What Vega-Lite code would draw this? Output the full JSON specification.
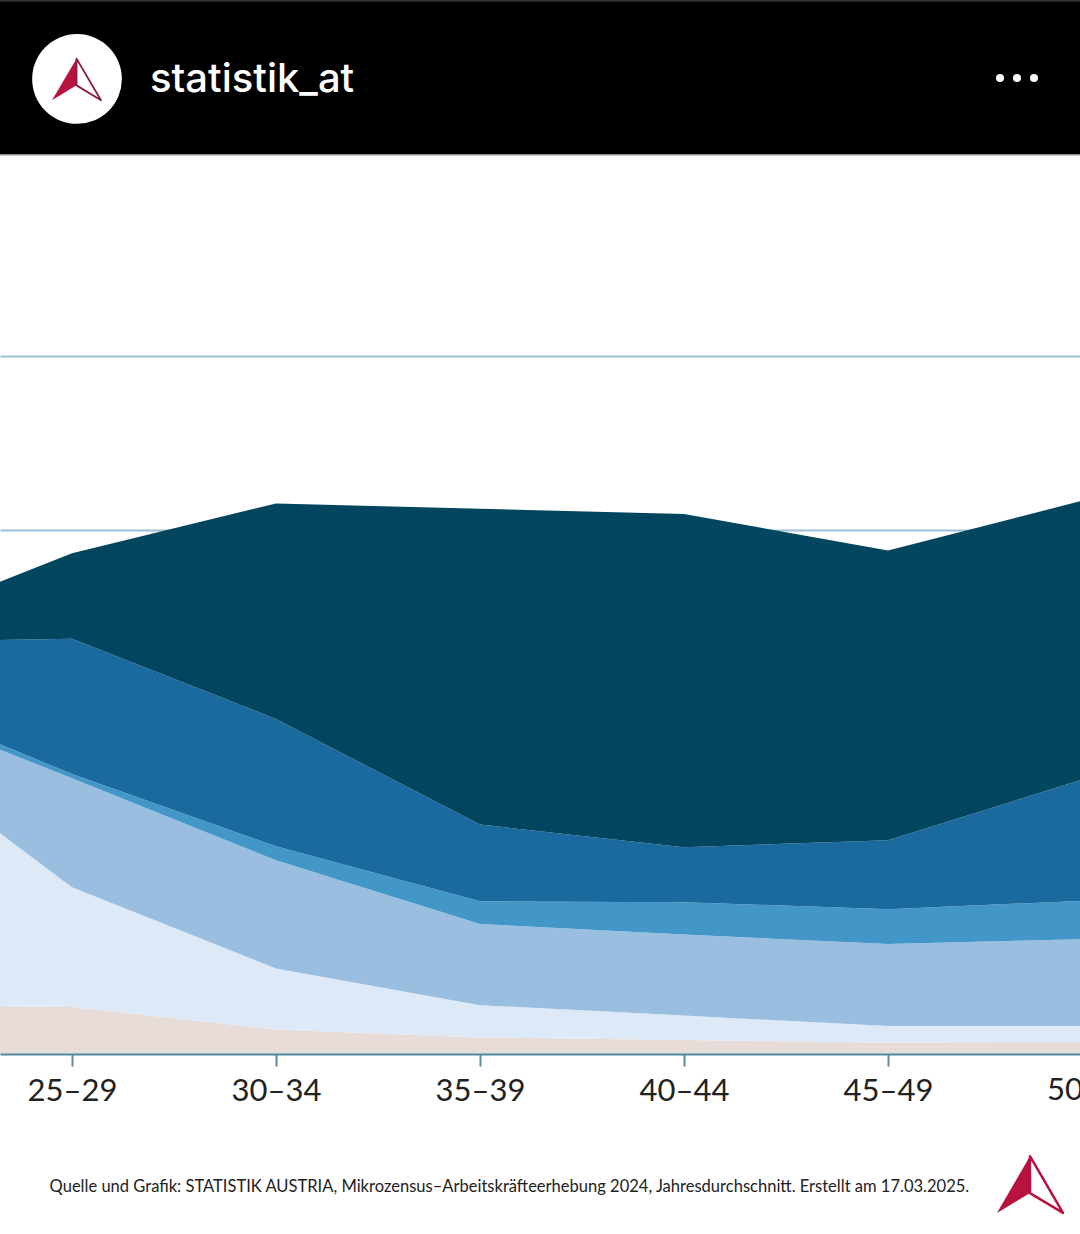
{
  "$schema": "https://vega.github.io/schema/vega-lite/v6.json",
  "width": 1080,
  "height": 1234,
  "autosize": "none",
  "padding": 0,
  "background": "white",
  "config": {"view": {"stroke": null}},
  "data": {
    "values": [
      {"alter": 0, "gruppe": "Gruppe 1", "rang": 1, "anteil": 5.6},
      {"alter": 0, "gruppe": "Gruppe 2", "rang": 2, "anteil": 31.1},
      {"alter": 0, "gruppe": "Gruppe 3", "rang": 3, "anteil": 4.2},
      {"alter": 0, "gruppe": "Gruppe 4", "rang": 4, "anteil": 0.8},
      {"alter": 0, "gruppe": "Gruppe 5", "rang": 5, "anteil": 5.5},
      {"alter": 0, "gruppe": "Gruppe 6", "rang": 6, "anteil": 0.9},
      {"alter": 1, "gruppe": "Gruppe 1", "rang": 1, "anteil": 5.4},
      {"alter": 1, "gruppe": "Gruppe 2", "rang": 2, "anteil": 13.7},
      {"alter": 1, "gruppe": "Gruppe 3", "rang": 3, "anteil": 12.5},
      {"alter": 1, "gruppe": "Gruppe 4", "rang": 4, "anteil": 0.5},
      {"alter": 1, "gruppe": "Gruppe 5", "rang": 5, "anteil": 15.5},
      {"alter": 1, "gruppe": "Gruppe 6", "rang": 6, "anteil": 9.8},
      {"alter": 2, "gruppe": "Gruppe 1", "rang": 1, "anteil": 2.8},
      {"alter": 2, "gruppe": "Gruppe 2", "rang": 2, "anteil": 7.0},
      {"alter": 2, "gruppe": "Gruppe 3", "rang": 3, "anteil": 12.4},
      {"alter": 2, "gruppe": "Gruppe 4", "rang": 4, "anteil": 1.6},
      {"alter": 2, "gruppe": "Gruppe 5", "rang": 5, "anteil": 14.6},
      {"alter": 2, "gruppe": "Gruppe 6", "rang": 6, "anteil": 24.7},
      {"alter": 3, "gruppe": "Gruppe 1", "rang": 1, "anteil": 1.9},
      {"alter": 3, "gruppe": "Gruppe 2", "rang": 2, "anteil": 3.7},
      {"alter": 3, "gruppe": "Gruppe 3", "rang": 3, "anteil": 9.3},
      {"alter": 3, "gruppe": "Gruppe 4", "rang": 4, "anteil": 2.6},
      {"alter": 3, "gruppe": "Gruppe 5", "rang": 5, "anteil": 8.8},
      {"alter": 3, "gruppe": "Gruppe 6", "rang": 6, "anteil": 36.2},
      {"alter": 4, "gruppe": "Gruppe 1", "rang": 1, "anteil": 1.6},
      {"alter": 4, "gruppe": "Gruppe 2", "rang": 2, "anteil": 2.8},
      {"alter": 4, "gruppe": "Gruppe 3", "rang": 3, "anteil": 9.3},
      {"alter": 4, "gruppe": "Gruppe 4", "rang": 4, "anteil": 3.7},
      {"alter": 4, "gruppe": "Gruppe 5", "rang": 5, "anteil": 6.3},
      {"alter": 4, "gruppe": "Gruppe 6", "rang": 6, "anteil": 38.2},
      {"alter": 5, "gruppe": "Gruppe 1", "rang": 1, "anteil": 1.3},
      {"alter": 5, "gruppe": "Gruppe 2", "rang": 2, "anteil": 1.9},
      {"alter": 5, "gruppe": "Gruppe 3", "rang": 3, "anteil": 9.4},
      {"alter": 5, "gruppe": "Gruppe 4", "rang": 4, "anteil": 4.0},
      {"alter": 5, "gruppe": "Gruppe 5", "rang": 5, "anteil": 7.9},
      {"alter": 5, "gruppe": "Gruppe 6", "rang": 6, "anteil": 33.2},
      {"alter": 6, "gruppe": "Gruppe 1", "rang": 1, "anteil": 1.4},
      {"alter": 6, "gruppe": "Gruppe 2", "rang": 2, "anteil": 1.8},
      {"alter": 6, "gruppe": "Gruppe 3", "rang": 3, "anteil": 10.0},
      {"alter": 6, "gruppe": "Gruppe 4", "rang": 4, "anteil": 4.4},
      {"alter": 6, "gruppe": "Gruppe 5", "rang": 5, "anteil": 14.2},
      {"alter": 6, "gruppe": "Gruppe 6", "rang": 6, "anteil": 31.9}
    ]
  },
  "layer": [
    {
      "mark": {"type": "area", "clip": true},
      "encoding": {
        "x": {
          "field": "alter",
          "type": "quantitative",
          "scale": {"domain": [0.64706, 5.94118], "nice": false, "zero": false},
          "axis": {
            "title": null,
            "orient": "bottom",
            "offset": -180,
            "values": [1, 2, 3, 4, 5],
            "labelExpr": "['20–24', '25–29', '30–34', '35–39', '40–44', '45–49', '50–54'][datum.value]",
            "grid": false,
            "domainColor": "#4F87A5",
            "domainWidth": 2,
            "tickColor": "#5A8AA5",
            "tickWidth": 2,
            "tickSize": 12,
            "labelFont": "Lato",
            "labelFontSize": 31,
            "labelColor": "#222222",
            "labelPadding": 10,
            "labelFlush": false,
            "labelBound": false,
            "labelOverlap": false,
            "zindex": 1
          }
        },
        "y": {
          "field": "anteil",
          "type": "quantitative",
          "stack": "zero",
          "scale": {"domain": [-20.63, 120.8], "nice": false, "zero": false},
          "axis": {
            "title": null,
            "values": [20, 40, 60, 80],
            "grid": true,
            "gridColor": "#9CC0D4",
            "gridWidth": 2,
            "domain": false,
            "ticks": false,
            "labels": false
          }
        },
        "color": {
          "field": "gruppe",
          "type": "nominal",
          "legend": null,
          "scale": {
            "domain": ["Gruppe 1", "Gruppe 2", "Gruppe 3", "Gruppe 4", "Gruppe 5", "Gruppe 6"],
            "range": ["#E8DCD8", "#DDE9F7", "#9ABEE0", "#4297C8", "#1A6AA0", "#02455F"]
          }
        },
        "order": {"field": "rang", "type": "quantitative"}
      }
    },
    {
      "data": {"values": [{"alter": 6, "klasse": "50–54"}]},
      "mark": {"type": "text", "align": "center", "baseline": "alphabetic", "font": "Lato", "fontSize": 31, "color": "#222222"},
      "encoding": {
        "x": {"field": "alter", "type": "quantitative"},
        "y": {"datum": -5.3, "type": "quantitative"},
        "text": {"field": "klasse"}
      }
    },
    {
      "data": {"values": [{}]},
      "mark": {"type": "rect", "color": "black"},
      "encoding": {
        "x": {"datum": 0.64706, "type": "quantitative"},
        "x2": {"datum": 5.94118},
        "y": {"datum": 120.8, "type": "quantitative"},
        "y2": {"datum": 103.1}
      }
    },
    {
      "data": {"values": [{}]},
      "mark": {"type": "rect", "color": "#333333"},
      "encoding": {
        "x": {"datum": 0.64706, "type": "quantitative"},
        "x2": {"datum": 5.94118},
        "y": {"datum": 120.8, "type": "quantitative"},
        "y2": {"datum": 120.6}
      }
    },
    {
      "data": {"values": [{}]},
      "mark": {"type": "rect", "color": "#999999"},
      "encoding": {
        "x": {"datum": 0.64706, "type": "quantitative"},
        "x2": {"datum": 5.94118},
        "y": {"datum": 103.1, "type": "quantitative"},
        "y2": {"datum": 102.97}
      }
    },
    {
      "data": {"values": [{}]},
      "mark": {"type": "point", "shape": "circle", "filled": true, "color": "white", "opacity": 1, "size": 8050},
      "encoding": {
        "x": {"datum": 1.0245, "type": "quantitative"},
        "y": {"datum": 111.75, "type": "quantitative"}
      }
    },
    {
      "data": {"values": [{}]},
      "mark": {"type": "point", "shape": "M0,-0.85L-1,0.85L0,0.24Z", "filled": true, "color": "#B8123F", "opacity": 1, "size": 2401},
      "encoding": {
        "x": {"datum": 1.0221, "type": "quantitative"},
        "y": {"datum": 111.69, "type": "quantitative"}
      }
    },
    {
      "data": {"values": [{}]},
      "mark": {"type": "point", "shape": "M0,-0.85L1,0.85L0,0.24Z", "filled": false, "color": "#8E1A42", "strokeWidth": 1.8, "strokeJoin": "round", "opacity": 1, "size": 2401},
      "encoding": {
        "x": {"datum": 1.0221, "type": "quantitative"},
        "y": {"datum": 111.69, "type": "quantitative"}
      }
    },
    {
      "data": {"values": [{}]},
      "mark": {"type": "point", "shape": "M0,-0.86L-1,0.86L0,0.26Z", "filled": true, "color": "#B8123F", "opacity": 1, "size": 4356},
      "encoding": {
        "x": {"datum": 5.696, "type": "quantitative"},
        "y": {"datum": -14.96, "type": "quantitative"}
      }
    },
    {
      "data": {"values": [{}]},
      "mark": {"type": "point", "shape": "M0,-0.86L1,0.86L0,0.26Z", "filled": false, "color": "#B8123F", "strokeWidth": 2.5, "strokeJoin": "round", "opacity": 1, "size": 4356},
      "encoding": {
        "x": {"datum": 5.696, "type": "quantitative"},
        "y": {"datum": -14.96, "type": "quantitative"}
      }
    },
    {
      "data": {"values": [{"position": 5.5490}, {"position": 5.6324}, {"position": 5.7157}]},
      "mark": {"type": "point", "shape": "circle", "filled": true, "color": "white", "opacity": 1, "size": 64},
      "encoding": {
        "x": {"field": "position", "type": "quantitative"},
        "y": {"datum": 111.86, "type": "quantitative"}
      }
    },
    {
      "data": {"values": [{"name": "statistik_at"}]},
      "mark": {"type": "text", "align": "left", "baseline": "alphabetic", "font": "Inter", "fontWeight": 500, "fontSize": 40, "color": "white"},
      "encoding": {
        "x": {"datum": 1.3824, "type": "quantitative"},
        "y": {"datum": 110.25, "type": "quantitative"},
        "text": {"field": "name"}
      }
    },
    {
      "data": {"values": [{"quelle": "Quelle und Grafik: STATISTIK AUSTRIA, Mikrozensus–Arbeitskräfteerhebung 2024, Jahresdurchschnitt. Erstellt am 17.03.2025."}]},
      "mark": {"type": "text", "align": "left", "baseline": "alphabetic", "font": "Lato", "fontSize": 16.55, "color": "#222222"},
      "encoding": {
        "x": {"datum": 0.89, "type": "quantitative"},
        "y": {"datum": -15.82, "type": "quantitative"},
        "text": {"field": "quelle"}
      }
    }
  ]
}
